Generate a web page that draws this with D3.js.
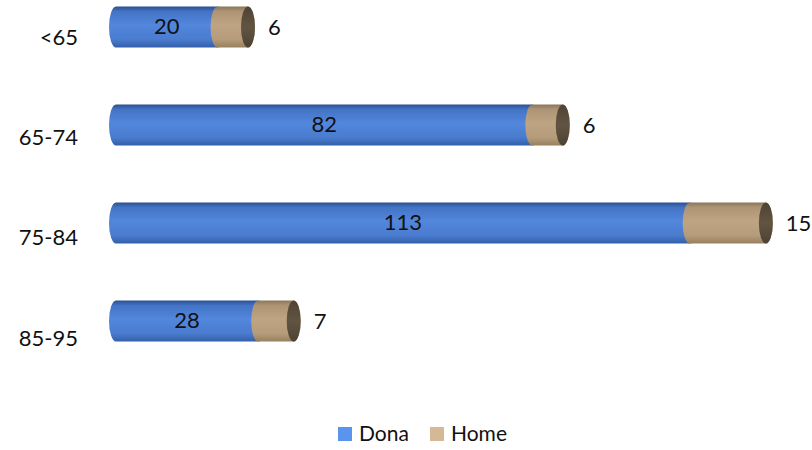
<!DOCTYPE html>
<html><head><meta charset="utf-8">
<script src="https://cdn.jsdelivr.net/npm/d3@7"></script>
<style>body{margin:0;background:#fff}svg{display:block}text{font-family:Lato,"Open Sans",sans-serif;fill:#111}</style>
</head><body>
<script>
const categories = ["<65", "65-74", "75-84", "85-95"];
const dona = [20, 82, 113, 28];
const home = [6, 6, 15, 7];
const seriesNames = ["Dona", "Home"];

const W = 812, H = 450;
const svg = d3.select("body").append("svg").attr("width", W).attr("height", H);
const defs = svg.append("defs");

function grad(id, stops) {
  const g = defs.append("linearGradient").attr("id", id).attr("x1", 0).attr("y1", 0).attr("x2", 0).attr("y2", 1);
  stops.forEach(([o, c]) => g.append("stop").attr("offset", o).attr("stop-color", c));
}
grad("gBlue", [[0, "#2a4f8f"], [0.12, "#4373c4"], [0.45, "#5287dc"], [0.8, "#4a7ccf"], [1, "#335fa8"]]);
grad("gTan", [[0, "#8a7558"], [0.12, "#ad9474"], [0.45, "#bea482"], [0.8, "#b69c7b"], [1, "#97805f"]]);
grad("gCap", [[0, "#4f4334"], [0.5, "#615442"], [1, "#4d4233"]]);

const x = d3.scaleLinear().domain([0, 130]).range([116, 776]);
const y = d3.scaleBand().domain(categories).range([-22, 370]).paddingInner(0.58).paddingOuter(0.29);
const yLab = d3.scalePoint().domain(categories).range([37, 338]);
const bw = y.bandwidth();
const rx = 7, ry = bw / 2;

function seg(xa, xb, cy) {
  return `M${xa},${cy - ry} L${xb},${cy - ry} A${rx},${ry} 0 0 1 ${xb},${cy + ry} L${xa},${cy + ry} A${rx},${ry} 0 0 1 ${xa},${cy - ry} Z`;
}

const rows = categories.map((c, i) => ({ c, d: dona[i], h: home[i] }));
const g = svg.append("g");
rows.forEach(r => {
  const cy = y(r.c) + bw / 2;
  const x0 = x(0), x1 = x(r.d), x2 = x(r.d + r.h);
  g.append("path").attr("d", seg(x0, x1, cy)).attr("fill", "url(#gBlue)");
  g.append("path").attr("d", seg(x1, x2, cy)).attr("fill", "url(#gTan)");
  g.append("ellipse").attr("cx", x2).attr("cy", cy).attr("rx", rx).attr("ry", ry).attr("fill", "url(#gCap)");
  g.append("text").attr("x", (x0 + x1) / 2).attr("y", cy - 1).attr("dy", "0.35em").attr("text-anchor", "middle")
    .style("font-size", "22px").text(r.d);
  g.append("text").attr("x", x2 + rx + 13).attr("y", cy).attr("dy", "0.35em").attr("text-anchor", "start")
    .style("font-size", "22px").text(r.h);
  g.append("text").attr("x", 78).attr("y", yLab(r.c)).attr("dy", "0.35em").attr("text-anchor", "end")
    .style("font-size", "22px").text(r.c);
});

const legColors = ["#5b94ee", "#d4b994"];
const leg = svg.append("g").attr("transform", "translate(338,434)");
const offs = [0, 92];
seriesNames.forEach((n, i) => {
  leg.append("rect").attr("x", offs[i]).attr("y", -7).attr("width", 14).attr("height", 14).attr("fill", legColors[i]);
  leg.append("text").attr("x", offs[i] + 21).attr("y", 0).attr("dy", "0.35em").style("font-size", "21px").text(n);
});
</script>
</body></html>
